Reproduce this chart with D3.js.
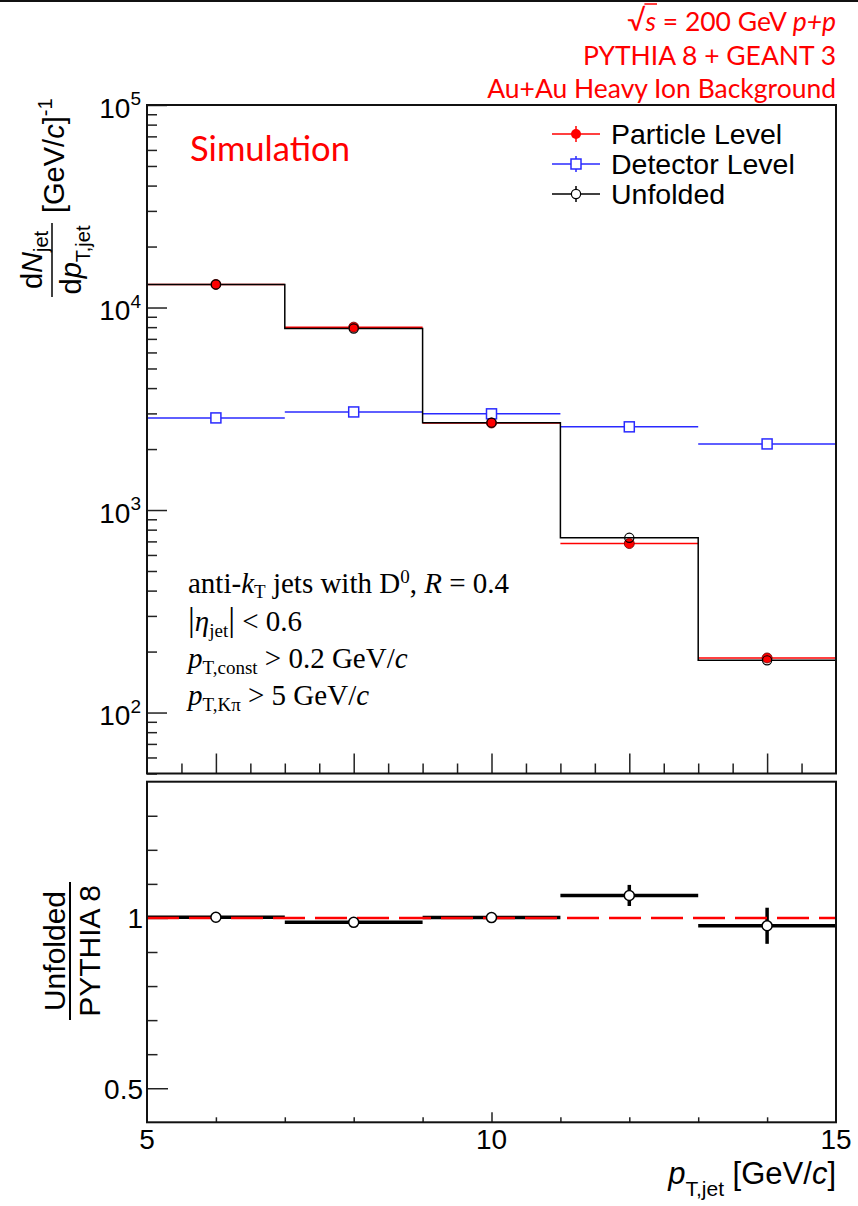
<!DOCTYPE html>
<html><head><meta charset="utf-8">
<script src="https://cdn.jsdelivr.net/npm/d3@7"></script>
<style>html,body{margin:0;padding:0;background:#fff;} svg{display:block;} text{white-space:pre;}</style>
</head><body>
<svg id="c" width="858" height="1206"></svg>
<script>
// ---------------- data ----------------
const binEdges = [5, 7, 9, 11, 13, 15];
const binCenters = [6, 8, 10, 12, 14];
const particleLevel = [13000, 8000, 2690, 683, 186];
const detectorLevel = [2850, 3050, 2985, 2575, 2120];
const unfoldedLevel = [13000, 7880, 2700, 729, 181];
const ratioValues = [1.002, 0.987, 1.001, 1.066, 0.977];
const ratioErrors = [0.003, 0.003, 0.004, 0.031, 0.053];
const yTopMajorTicks = [1e2, 1e3, 1e4, 1e5];
const yTopMajorExp = ["2", "3", "4", "5"];
const xBottomTickLabels = [5, 10, 15];
const yBottomTickLabels = [0.5, 1];
const legendLabels = ["Particle Level", "Detector Level", "Unfolded"];
const topLabels = ["PYTHIA 8 + GEANT 3", "Au+Au Heavy Ion Background"];

// ---------------- layout ----------------
const L = 147, R = 836, T1 = 105, B1 = 773.5, T2 = 781.7, B2 = 1122.3;
const SANS = "'Liberation Sans', Arial, Helvetica, sans-serif";
const SERIF = "'Liberation Serif', 'Times New Roman', serif";
const CAL = "Lato, 'Open Sans', sans-serif";
const RED = "#ff0000", BLUE = "#2a2aff";

const svg = d3.select("#c");
svg.append("rect").attr("x",0).attr("y",0).attr("width",858).attr("height",1206).attr("fill","#fff");
svg.append("rect").attr("x",0).attr("y",0).attr("width",858).attr("height",2).attr("fill","#111");

const x = d3.scaleLinear().domain([binEdges[0], binEdges[binEdges.length-1]]).range([L, R]);
const yTop = d3.scaleLog().domain([50, 1e5]).range([B1, T1]);
const yBot = d3.scaleLinear().domain([0.4, 1.4]).range([B2, T2]);

function rich(parent, px, py, segs, fs, anchor, family, fill) {
  const t = parent.append("text").attr("x", px).attr("y", py)
    .attr("font-size", fs).attr("font-family", family)
    .attr("text-anchor", anchor || "start").attr("fill", fill || "#000");
  let cur = 0;
  segs.forEach(s => {
    const target = s.shift || 0;
    const ts = t.append("tspan").text(s.t).attr("dy", target - cur);
    cur = target;
    if (s.i) ts.attr("font-style", "italic");
    if (s.fs) ts.attr("font-size", s.fs);
    if (s.dx) ts.attr("dx", s.dx);
  });
  return t;
}
function styleAxis(g, w) {
  g.select(".domain").remove();
  g.selectAll(".tick line").attr("stroke", "#222").attr("stroke-width", w || 1.5);
  g.selectAll(".tick text").remove();
}

// ---------------- upper panel ticks ----------------
const xMajTop = [6, 8, 10, 12, 14];
const xMinTop = d3.range(11, 30).map(v => v / 2).filter(v => !xMajTop.includes(v));
styleAxis(svg.append("g").attr("transform", `translate(0,${B1})`)
  .call(d3.axisTop(x).tickValues(xMinTop).tickSize(10).tickFormat("")));
styleAxis(svg.append("g").attr("transform", `translate(0,${B1})`)
  .call(d3.axisTop(x).tickValues(xMajTop).tickSize(20).tickFormat("")));

const yMinTop = [];
[10, 100, 1000, 10000].forEach(d => { for (let m = 2; m <= 9; m++) { const v = m * d; if (v >= 50 && v < 1e5) yMinTop.push(v); } });
styleAxis(svg.append("g").attr("transform", `translate(${L},0)`)
  .call(d3.axisRight(yTop).tickValues(yMinTop).tickSize(10).tickFormat("")));
styleAxis(svg.append("g").attr("transform", `translate(${L},0)`)
  .call(d3.axisRight(yTop).tickValues(yTopMajorTicks).tickSize(20).tickFormat("")));

yTopMajorTicks.forEach((v, i) => {
  rich(svg, 141, yTop(v) + 12.7, [{t: "10"}, {t: yTopMajorExp[i], fs: 19, shift: -12.7}], 28, "end", SANS);
});

// ---------------- lower panel ticks ----------------
const yMinBot = d3.range(5, 14).map(v => v / 10).filter(v => !yBottomTickLabels.includes(v));
styleAxis(svg.append("g").attr("transform", `translate(${L},0)`)
  .call(d3.axisRight(yBot).tickValues(yMinBot).tickSize(10.5).tickFormat("")));
styleAxis(svg.append("g").attr("transform", `translate(${L},0)`)
  .call(d3.axisRight(yBot).tickValues(yBottomTickLabels).tickSize(21).tickFormat("")));
const xMinBot = d3.range(6, 15).filter(v => v !== 10);
styleAxis(svg.append("g").attr("transform", `translate(0,${B2})`)
  .call(d3.axisTop(x).tickValues(xMinBot).tickSize(5).tickFormat("")));
styleAxis(svg.append("g").attr("transform", `translate(0,${B2})`)
  .call(d3.axisTop(x).tickValues([10]).tickSize(10).tickFormat("")));

yBottomTickLabels.forEach(v => {
  svg.append("text").attr("x", 143).attr("y", yBot(v) + 10.5).attr("text-anchor", "end")
    .attr("font-family", SANS).attr("font-size", 28).text(v);
});
xBottomTickLabels.forEach(v => {
  svg.append("text").attr("x", x(v)).attr("y", 1149).attr("text-anchor", "middle")
    .attr("font-family", SANS).attr("font-size", 28).text(v);
});

// ---------------- upper panel data ----------------
const up = svg.append("g");
up.selectAll("line.det").data(detectorLevel).join("line")
  .attr("x1", (d, i) => x(binEdges[i])).attr("x2", (d, i) => x(binEdges[i + 1]))
  .attr("y1", d => yTop(d)).attr("y2", d => yTop(d))
  .attr("stroke", BLUE).attr("stroke-width", 1.5);
up.selectAll("line.part").data(particleLevel).join("line")
  .attr("x1", (d, i) => x(binEdges[i])).attr("x2", (d, i) => x(binEdges[i + 1]))
  .attr("y1", d => yTop(d)).attr("y2", d => yTop(d))
  .attr("stroke", RED).attr("stroke-width", 1.5);
const stepPts = unfoldedLevel.map((d, i) => [binEdges[i], d]).concat([[binEdges[binEdges.length - 1], unfoldedLevel[unfoldedLevel.length - 1]]]);
up.append("path").attr("d", d3.line().x(d => x(d[0])).y(d => yTop(d[1])).curve(d3.curveStepAfter)(stepPts))
  .attr("fill", "none").attr("stroke", "#000").attr("stroke-width", 1.5);
up.selectAll("rect.detm").data(detectorLevel).join("rect")
  .attr("x", (d, i) => x(binCenters[i]) - 5).attr("y", d => yTop(d) - 5)
  .attr("width", 10).attr("height", 10).attr("fill", "#fff").attr("stroke", BLUE).attr("stroke-width", 1.5);
up.selectAll("circle.partm").data(particleLevel).join("circle")
  .attr("cx", (d, i) => x(binCenters[i])).attr("cy", d => yTop(d)).attr("r", 5)
  .attr("fill", RED).attr("stroke", "#600").attr("stroke-width", 0.8);
up.selectAll("circle.unfm").data(unfoldedLevel).join("circle")
  .attr("cx", (d, i) => x(binCenters[i])).attr("cy", d => yTop(d)).attr("r", 4.6)
  .attr("fill", "none").attr("stroke", "#000").attr("stroke-width", 1.2);

// ---------------- lower panel data ----------------
const lo = svg.append("g");
lo.selectAll("line.rh").data(ratioValues).join("line")
  .attr("x1", (d, i) => x(binEdges[i])).attr("x2", (d, i) => x(binEdges[i + 1]))
  .attr("y1", d => yBot(d)).attr("y2", d => yBot(d))
  .attr("stroke", "#000").attr("stroke-width", 3.5);
lo.selectAll("line.re").data(ratioValues).join("line")
  .attr("x1", (d, i) => x(binCenters[i])).attr("x2", (d, i) => x(binCenters[i]))
  .attr("y1", (d, i) => yBot(d - ratioErrors[i])).attr("y2", (d, i) => yBot(d + ratioErrors[i]))
  .attr("stroke", "#000").attr("stroke-width", 3.5);
lo.append("line").attr("x1", x(5)).attr("x2", x(15)).attr("y1", yBot(1)).attr("y2", yBot(1))
  .attr("stroke", RED).attr("stroke-width", 2.5).attr("stroke-dasharray", "32,10");
lo.selectAll("circle.rm").data(ratioValues).join("circle")
  .attr("cx", (d, i) => x(binCenters[i])).attr("cy", d => yBot(d)).attr("r", 5)
  .attr("fill", "#fff").attr("stroke", "#000").attr("stroke-width", 1.5);

// ---------------- frames ----------------
svg.append("rect").attr("x", L).attr("y", T1).attr("width", R - L).attr("height", B1 - T1)
  .attr("fill", "none").attr("stroke", "#111").attr("stroke-width", 2);
svg.append("rect").attr("x", L).attr("y", T2).attr("width", R - L).attr("height", B2 - T2)
  .attr("fill", "none").attr("stroke", "#111").attr("stroke-width", 2);

// ---------------- legend ----------------
const legY = [134, 164, 194];
const lg = svg.append("g");
const legColors = [RED, BLUE, "#000"];
legendLabels.forEach((lab, i) => {
  const y = legY[i];
  lg.append("line").attr("x1", 552).attr("x2", 600).attr("y1", y).attr("y2", y).attr("stroke", legColors[i]).attr("stroke-width", 1.5);
  lg.append("line").attr("x1", 576).attr("x2", 576).attr("y1", y - 8).attr("y2", y + 8).attr("stroke", legColors[i]).attr("stroke-width", 1.5);
  if (i === 0) lg.append("circle").attr("cx", 576).attr("cy", y).attr("r", 5).attr("fill", RED);
  if (i === 1) lg.append("rect").attr("x", 571).attr("y", y - 5).attr("width", 10).attr("height", 10).attr("fill", "#fff").attr("stroke", BLUE).attr("stroke-width", 1.5);
  if (i === 2) lg.append("circle").attr("cx", 576).attr("cy", y).attr("r", 4.6).attr("fill", "#fff").attr("stroke", "#000").attr("stroke-width", 1.2);
  lg.append("text").attr("x", 611).attr("y", y + 10).attr("font-family", SANS).attr("font-size", 28.5).text(lab);
});

// ---------------- titles ----------------
const yt = svg.append("g").attr("transform", "translate(52,297) rotate(-90)");
yt.append("line").attr("x1", 0).attr("x2", 74).attr("y1", 0).attr("y2", 0).attr("stroke", "#000").attr("stroke-width", 1.5);
rich(yt, 37, -10, [{t: "d"}, {t: "N", i: 1}, {t: "jet", fs: 20, shift: 6}], 29, "middle", SANS);
rich(yt, 37, 29, [{t: "d"}, {t: "p", i: 1}, {t: "T,jet", fs: 20, shift: 9}], 29, "middle", SANS);
rich(yt, 84, 12, [{t: "[GeV/"}, {t: "c", i: 1}, {t: "]"}, {t: "-1", fs: 20, shift: -12}], 29, "start", SANS);

const yb = svg.append("g").attr("transform", "translate(70,1020) rotate(-90)");
yb.append("line").attr("x1", 0).attr("x2", 138).attr("y1", 0).attr("y2", 0).attr("stroke", "#000").attr("stroke-width", 2);
yb.append("text").attr("x", 69).attr("y", -5).attr("text-anchor", "middle").attr("font-family", SANS).attr("font-size", 30).text("Unfolded");
yb.append("text").attr("x", 69).attr("y", 30).attr("text-anchor", "middle").attr("font-family", SANS).attr("font-size", 30).text("PYTHIA 8");

rich(svg, 836, 1184, [{t: "p", i: 1}, {t: "T,jet", fs: 21, shift: 12}, {t: " [GeV/"}, {t: "c", i: 1}, {t: "]"}], 31, "end", SANS);

// ---------------- annotations ----------------
const an = svg.append("g");
rich(an, 188, 593, [{t: "anti-"}, {t: "k", i: 1}, {t: "T", fs: 19, shift: 5}, {t: " jets with D"}, {t: "0", fs: 19, shift: -10}, {t: ", "}, {t: "R", i: 1}, {t: " = 0.4"}], 29, "start", SERIF);
rich(an, 188, 631, [{t: "|", fs: 34}, {t: "η", i: 1}, {t: "jet", fs: 19, shift: 6}, {t: "|", fs: 34}, {t: " < 0.6"}], 29, "start", SERIF);
rich(an, 188, 668, [{t: "p", i: 1}, {t: "T,const", fs: 19, shift: 6}, {t: " > 0.2 GeV/"}, {t: "c", i: 1}], 29, "start", SERIF);
rich(an, 188, 705, [{t: "p", i: 1}, {t: "T,Kπ", fs: 19, shift: 6}, {t: " > 5 GeV/"}, {t: "c", i: 1}], 29, "start", SERIF);

const sim = svg.append("text").attr("x", 190).attr("y", 161).attr("font-family", CAL).attr("font-size", 34).attr("fill", RED).text("Simulation");
{ const w = sim.node().getComputedTextLength(); sim.attr("font-size", 34 * 160 / w); }

const t3 = svg.append("text").attr("x", 836).attr("y", 98).attr("text-anchor", "end").attr("font-family", CAL).attr("font-size", 26).attr("fill", RED).text(topLabels[1]);
let tfs = 26 * 349 / t3.node().getComputedTextLength();
t3.attr("font-size", tfs);
svg.append("text").attr("x", 836).attr("y", 65).attr("text-anchor", "end").attr("font-family", CAL).attr("font-size", tfs).attr("fill", RED).text(topLabels[0]);
const t1 = rich(svg, 836, 31, [{t: "√", fs: tfs * 1.1}, {t: "s", i: 1}, {t: " = 200 GeV "}, {t: "p+p", i: 1}], tfs, "end", CAL, RED);
{
  const n = t1.node();
  const e0 = n.getExtentOfChar(0), e1 = n.getExtentOfChar(1);
  svg.append("line").attr("x1", e0.x + e0.width - 1).attr("x2", e1.x + e1.width + 1)
    .attr("y1", e0.y + 2).attr("y2", e0.y + 2).attr("stroke", RED).attr("stroke-width", 1.5);
}
</script>
</body></html>
